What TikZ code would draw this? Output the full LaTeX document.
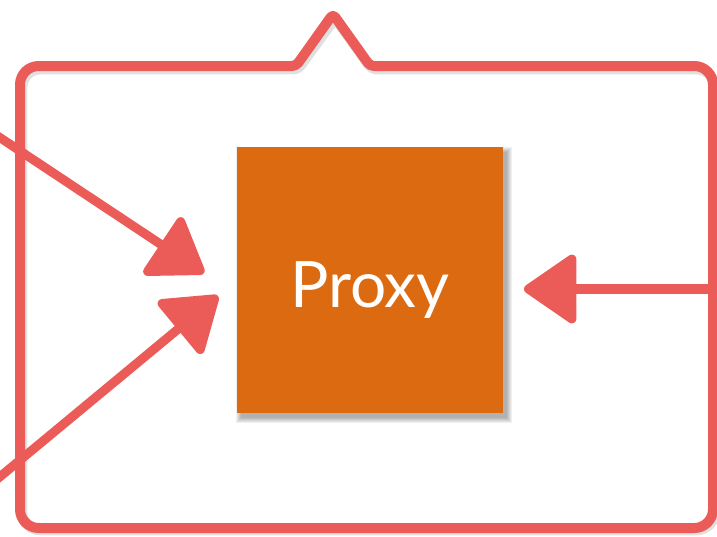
\documentclass[tikz,border=0pt]{standalone}
\usepackage{fontspec}
\setmainfont{Lato}
\usetikzlibrary{arrows.meta}
\definecolor{chalk}{RGB}{235,92,88}
\definecolor{proxyorange}{RGB}{220,106,16}
\begin{document}
\begin{tikzpicture}[x=0.75pt,y=-0.75pt,
  chalkline/.style={draw=chalk, line width=7.5pt, line cap=round, line join=round},
  chalkshadow/.style={draw=black, opacity=0.12, line width=8pt, line cap=round, line join=round},
  connector/.style={draw=chalk, line width=6.8pt, -{Triangle[length=42pt,width=56pt,round]}},
  proxybox/.style={fill=proxyorange, minimum width=199.5pt, minimum height=199.5pt, inner sep=0pt},
  proxytext/.style={text=white, font=\fontsize{48}{56}\selectfont, inner sep=0pt, anchor=base},
  ]
\useasboundingbox (0,0) rectangle (717,536);

% soft shadow below the outer frame
\draw[chalkshadow] (22,300) [rounded corners=14] -- (22,69) [rounded corners=3] -- (298,69)
  -- (335,18) -- (372,69) [rounded corners=14] -- (715,69) -- (715,530) -- (22,530) -- cycle;
% outer hand-drawn frame with the notch on top
\draw[chalkline] (20,300) [rounded corners=14] -- (20,66) [rounded corners=3] -- (296,66)
  -- (333,14) -- (370,66) [rounded corners=14] -- (713,66) -- (713,528) -- (20,528) -- cycle;

% blurred drop shadow of the proxy box
\foreach \s in {0,1,2,3,4,5}
  \fill[black, opacity=0.06] (241-\s,152-\s) rectangle (507+\s,418+\s);

% the proxy box
\node[proxybox] (proxy) at (370,280) {};
\node[proxytext] (proxylabel) at (370,307) {Proxy};

% incoming connectors
\coordinate (srcA) at (-10,131);
\coordinate (tipA) at (204,273);
\coordinate (srcB) at (-10,485);
\coordinate (tipB) at (218,296);
\coordinate (srcC) at (730,289);
\coordinate (tipC) at (524,289);
\draw[connector] (srcA) -- (tipA);
\draw[connector] (srcB) -- (tipB);
\draw[connector] (srcC) -- (tipC);
\end{tikzpicture}
\end{document}
